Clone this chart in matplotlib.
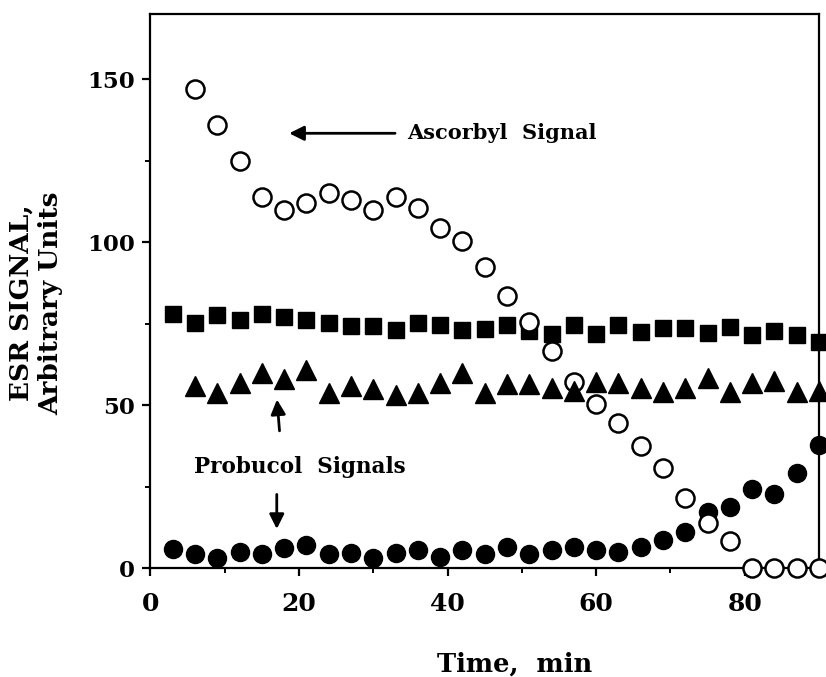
import matplotlib
matplotlib.use('Agg')
import matplotlib.pyplot as plt
from matplotlib.ticker import MultipleLocator

plt.rcParams['font.family'] = 'DejaVu Serif'
plt.rcParams['font.weight'] = 'bold'

# ascorbyl radical signal (open circles)
t_asc = [6, 9, 12, 15, 18, 21, 24, 27, 30, 33, 36, 39, 42, 45, 48,
         51, 54, 57, 60, 63, 66, 69, 72, 75, 78, 81, 84, 87, 90]
asc = [147, 136, 125, 114, 110, 112, 115, 113, 110, 114, 110.5, 104.3,
       100.3, 92.5, 83.6, 75.6, 66.5, 57, 50.5, 44.4, 37.4, 30.6, 21.4,
       13.8, 8.3, 0, 0, 0, 0]

# probucol signals
t_sq = [3, 6, 9, 12, 15, 18, 21, 24, 27, 30, 33, 36, 39, 42, 45, 48,
        51, 54, 57, 60, 63, 66, 69, 72, 75, 78, 81, 84, 87, 90]
squares = [78, 75.1, 77.8, 76.2, 78, 77.2, 76.2, 75.1, 74.4, 74.4, 73.2,
           75.2, 74.6, 73.2, 73.4, 74.7, 72.9, 71.9, 74.7, 71.9, 74.7,
           72.4, 73.7, 73.7, 72.1, 74.1, 71.4, 72.7, 71.4, 69.3]

t_tri = [6, 9, 12, 15, 18, 21, 24, 27, 30, 33, 36, 39, 42, 45, 48,
         51, 54, 57, 60, 63, 66, 69, 72, 75, 78, 81, 84, 87, 90]
triangles = [56.0, 53.7, 56.8, 59.8, 58.1, 60.8, 53.7, 56.0, 55.0, 53.2,
             53.8, 56.9, 59.9, 53.9, 56.6, 56.6, 55.3, 54.3, 57.1, 56.7,
             55.3, 54.0, 55.4, 58.5, 54.0, 56.7, 57.4, 54.0, 54.3]

t_dot = [3, 6, 9, 12, 15, 18, 21, 24, 27, 30, 33, 36, 39, 42, 45, 48,
         51, 54, 57, 60, 63, 66, 69, 72, 75, 78, 81, 84, 87, 90]
dots = [6.0, 4.3, 3.0, 5.0, 4.3, 6.3, 7.0, 4.3, 4.7, 3.0, 4.8, 5.5, 3.5,
        5.5, 4.5, 6.5, 4.5, 5.7, 6.5, 5.5, 5.0, 6.5, 8.8, 11.1, 17.2,
        18.8, 24.4, 22.9, 29.2, 37.7]

fig = plt.figure(figsize=(8.26, 6.77), dpi=100)
ax = fig.add_axes([0.1822, 0.1606, 0.8093, 0.8188])

ax.plot(t_sq, squares, 's', color='black', markersize=12, clip_on=False, zorder=3)
ax.plot(t_dot, dots, 'o', color='black', markersize=13, clip_on=False, zorder=3)
ax.plot(t_asc, asc, 'o', markerfacecolor='white', markeredgecolor='black',
        markersize=13, markeredgewidth=1.8, clip_on=False, zorder=4)
ax.plot(t_tri, triangles, '^', color='black', markersize=14.5, clip_on=False, zorder=5)

ax.set_xlim(0, 90)
ax.set_ylim(0, 170)
ax.xaxis.set_major_locator(MultipleLocator(20))
ax.xaxis.set_minor_locator(MultipleLocator(10))
ax.yaxis.set_major_locator(MultipleLocator(50))
ax.yaxis.set_minor_locator(MultipleLocator(25))

for s in ax.spines.values():
    s.set_linewidth(1.6)
ax.tick_params(which='major', direction='out', length=6, width=1.6)
ax.tick_params(which='minor', direction='out', length=3.5, width=1.4)
ax.tick_params(axis='x', which='major', labelsize=18, pad=11)
ax.tick_params(axis='y', which='major', labelsize=16.5, pad=5)
for lab in ax.get_xticklabels() + ax.get_yticklabels():
    lab.set_fontweight('bold')

arrow = dict(arrowstyle='-|>', color='black', lw=2, mutation_scale=22)
ax.annotate('', xy=(18.3, 133.4), xytext=(33.3, 133.4), arrowprops=arrow)
ax.text(34.6, 133.4, 'Ascorbyl  Signal', fontsize=15, fontweight='bold',
        ha='left', va='center')

ax.text(5.8, 31.1, 'Probucol  Signals', fontsize=15.5, fontweight='bold',
        ha='left', va='center')
ax.annotate('', xy=(17.0, 52.6), xytext=(17.4, 41.3), arrowprops=arrow)
ax.annotate('', xy=(17.0, 11.2), xytext=(17.0, 23.5), arrowprops=arrow)

fig.text(36 / 826, 1 - 303 / 677, 'ESR SIGNAL,\nArbitrary Units', rotation=90,
         fontsize=19, fontweight='bold', ha='center', va='center',
         linespacing=1.25)
fig.text(515 / 826, 1 - 664 / 677, 'Time,  min', fontsize=18.5,
         fontweight='bold', ha='center', va='center')

fig.savefig('out.png', dpi=100)
